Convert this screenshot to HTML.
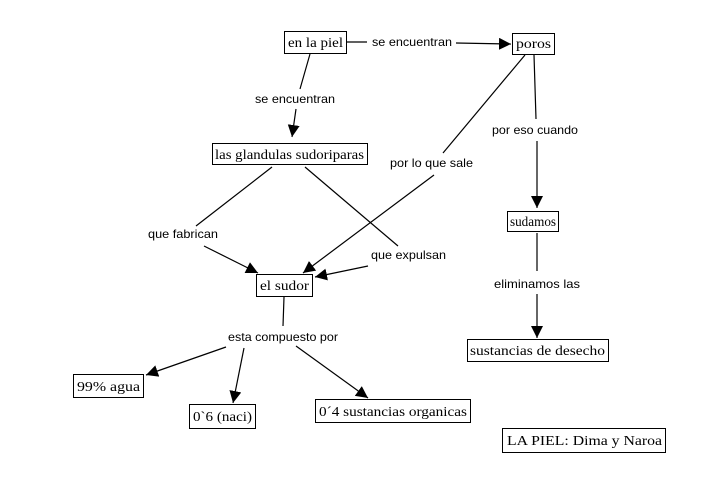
<!DOCTYPE html>
<html><head><style>html,body{margin:0;padding:0;background:#fff}svg{display:block}
.b{fill:#fff;stroke:#000;stroke-width:1}
.t{font-family:"Liberation Serif",serif;font-size:14px}
.l{font-family:"Liberation Sans",sans-serif;font-size:12px}
line{stroke:#000;stroke-width:1.2}
</style></head><body>
<svg width="708" height="491" viewBox="0 0 708 491" xmlns="http://www.w3.org/2000/svg">
<defs><marker id="a" viewBox="0 0 10 10" refX="10" refY="5" markerWidth="12" markerHeight="12" markerUnits="userSpaceOnUse" orient="auto"><path d="M0,0L10,5L0,10z"/></marker></defs>
<line x1="347" y1="42" x2="367" y2="42"/><line x1="456" y1="43" x2="511" y2="44" marker-end="url(#a)"/>
<line x1="310" y1="54" x2="300" y2="89"/><line x1="296" y1="109" x2="292" y2="137" marker-end="url(#a)"/>
<line x1="534" y1="55" x2="536" y2="119"/><line x1="537" y1="141" x2="537" y2="208" marker-end="url(#a)"/>
<line x1="525" y1="55" x2="443" y2="153"/><line x1="434" y1="175" x2="303" y2="273" marker-end="url(#a)"/>
<line x1="272" y1="167" x2="196" y2="226"/><line x1="204" y1="246" x2="258" y2="273" marker-end="url(#a)"/>
<line x1="305" y1="167" x2="398" y2="246"/><line x1="368" y1="266" x2="315" y2="277" marker-end="url(#a)"/>
<line x1="537" y1="233" x2="537" y2="271"/><line x1="537" y1="294" x2="537" y2="338" marker-end="url(#a)"/>
<line x1="284" y1="297" x2="283" y2="326"/>
<line x1="226" y1="347" x2="146" y2="375" marker-end="url(#a)"/>
<line x1="244" y1="348" x2="233" y2="403" marker-end="url(#a)"/>
<line x1="296" y1="346" x2="368" y2="398" marker-end="url(#a)"/>
<rect class="b" x="284.5" y="31.5" width="62" height="22"/><text class="t" x="288" y="47" textLength="55" lengthAdjust="spacingAndGlyphs">en la piel</text>
<rect class="b" x="512.5" y="33.5" width="42" height="21"/><text class="t" x="516" y="48" textLength="35" lengthAdjust="spacingAndGlyphs">poros</text>
<rect class="b" x="212.5" y="143.5" width="155" height="21"/><text class="t" x="215" y="159" textLength="149" lengthAdjust="spacingAndGlyphs">las glandulas sudoriparas</text>
<rect class="b" x="507.5" y="211.5" width="51" height="20"/><text class="t" x="510" y="226" textLength="46" lengthAdjust="spacingAndGlyphs">sudamos</text>
<rect class="b" x="256.5" y="274.5" width="56" height="22"/><text class="t" x="260" y="290" textLength="49" lengthAdjust="spacingAndGlyphs">el sudor</text>
<rect class="b" x="467.5" y="339.5" width="141" height="22"/><text class="t" x="470" y="355" textLength="135" lengthAdjust="spacingAndGlyphs">sustancias de desecho</text>
<rect class="b" x="73.5" y="374.5" width="70" height="23"/><text class="t" x="77" y="391" textLength="63" lengthAdjust="spacingAndGlyphs">99% agua</text>
<rect class="b" x="189.5" y="404.5" width="66" height="24"/><text class="t" x="193" y="421" textLength="59" lengthAdjust="spacingAndGlyphs">0`6 (naci)</text>
<rect class="b" x="315.5" y="399.5" width="155" height="23"/><text class="t" x="319" y="416" textLength="148" lengthAdjust="spacingAndGlyphs">0´4 sustancias organicas</text>
<rect class="b" x="502.5" y="428.5" width="163" height="24"/><text class="t" x="507" y="445" textLength="155" lengthAdjust="spacingAndGlyphs">LA PIEL: Dima y Naroa</text>
<text class="l" x="372" y="46" textLength="80" lengthAdjust="spacingAndGlyphs">se encuentran</text>
<text class="l" x="255" y="103" textLength="80" lengthAdjust="spacingAndGlyphs">se encuentran</text>
<text class="l" x="492" y="134" textLength="86" lengthAdjust="spacingAndGlyphs">por eso cuando</text>
<text class="l" x="390" y="167" textLength="83" lengthAdjust="spacingAndGlyphs">por lo que sale</text>
<text class="l" x="148" y="238" textLength="70" lengthAdjust="spacingAndGlyphs">que fabrican</text>
<text class="l" x="371" y="259" textLength="75" lengthAdjust="spacingAndGlyphs">que expulsan</text>
<text class="l" x="494" y="288" textLength="86" lengthAdjust="spacingAndGlyphs">eliminamos las</text>
<text class="l" x="228" y="341" textLength="110" lengthAdjust="spacingAndGlyphs">esta compuesto por</text>
</svg>
</body></html>
